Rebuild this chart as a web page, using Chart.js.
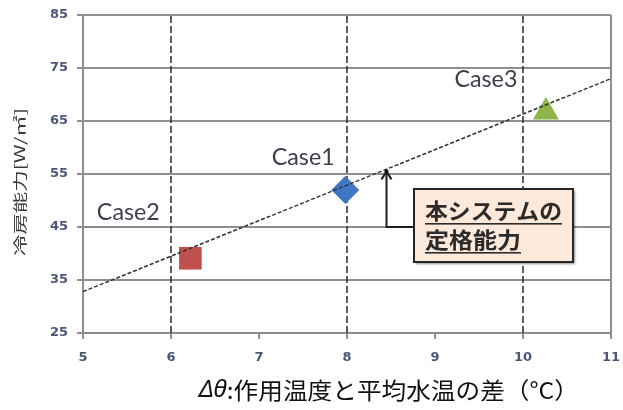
<!DOCTYPE html>
<html>
<head>
<meta charset="utf-8">
<script src="https://cdn.jsdelivr.net/npm/chart.js@4"></script>
<style>
  html, body { margin: 0; padding: 0; background: #fff; }
  #wrap { width: 623px; height: 410px; position: relative; }
</style>
</head>
<body>
<div id="wrap"><canvas id="c" width="623" height="410"></canvas></div>
<script>
// Axis ranges and ticks
const xTicks = [5, 6, 7, 8, 9, 10, 11];
const yTicks = [25, 35, 45, 55, 65, 75, 85];
// Dashed reference verticals
const guideX = [6, 8, 10];

// Measured cases
const caseNames = ['Case1', 'Case2', 'Case3'];
const caseX = [7.98, 6.22, 10.26];
const caseY = [52, 39.1, 66.7];

// Capacity trend line (end points)
const trendX = [5, 11];
const trendY = [32.8, 73.0];

// Rated capacity arrow and note
const ratedX = 8.44;
const ratedFromY = 45;
const ratedToY = 55.5;
const noteLines = ['本システムの', '定格能力'];

const yTitle = '冷房能力[W/㎡]';
const xTitleItalic = 'Δθ';
const xTitleRest = ':作用温度と平均水温の差（°C）';

// Styles
const caseStyles = [
  { style: 'rectRot', color: '#3f77c4', radius: 14 },
  { style: 'rect', color: '#c0504d', radius: 16 },
  { style: 'triangle', color: '#8db54a', radius: 15 }
];
const labelOffsets = [[-42, -32], [-62, -46], [-60, -32]];
const gridGray = '#8f8f8f';
const tickBlue = '#4b5678';

function fitText(ctx, text, x, y, width) {
  const w = ctx.measureText(text).width;
  ctx.save();
  ctx.translate(x, y);
  ctx.scale(width / w, 1);
  ctx.fillText(text, 0, 0);
  ctx.restore();
}

const decor = {
  id: 'decor',
  afterDatasetsDraw(chart) {
    const { ctx, scales: { x, y } } = chart;
    // Case labels
    ctx.save();
    ctx.font = '23px Lato';
    ctx.fillStyle = '#3a3f4e';
    ctx.textAlign = 'center';
    ctx.textBaseline = 'middle';
    caseNames.forEach((n, i) => {
      const px = x.getPixelForValue(caseX[i]) + labelOffsets[i][0];
      const py = y.getPixelForValue(caseY[i]) + labelOffsets[i][1];
      fitText(ctx, n, px, py, 63);
    });
    ctx.restore();
  },
  afterDraw(chart) {
    const { ctx, scales: { x, y } } = chart;
    const ax = Math.round(x.getPixelForValue(ratedX)) + 0.5;
    const ay0 = y.getPixelForValue(ratedFromY);
    const ay1 = y.getPixelForValue(ratedToY);
    const boxL = 414, boxT = 189, boxW = 159, boxH = 73;

    // Arrow from the note up to the trend line
    ctx.save();
    ctx.strokeStyle = '#1e1e1e';
    ctx.lineWidth = 2;
    ctx.beginPath();
    ctx.moveTo(boxL, ay0);
    ctx.lineTo(ax, ay0);
    ctx.lineTo(ax, ay1);
    ctx.stroke();
    ctx.beginPath();
    ctx.moveTo(ax - 5, ay1 + 8);
    ctx.lineTo(ax, ay1);
    ctx.lineTo(ax + 5, ay1 + 8);
    ctx.stroke();
    ctx.fillStyle = '#111';
    ctx.beginPath();
    ctx.arc(ax, ay1, 2, 0, Math.PI * 2);
    ctx.fill();

    // Note box
    ctx.shadowColor = 'rgba(0,0,0,0.45)';
    ctx.shadowOffsetX = 2;
    ctx.shadowOffsetY = 2;
    ctx.shadowBlur = 2;
    ctx.fillStyle = '#fde9d9';
    ctx.fillRect(boxL, boxT, boxW, boxH);
    ctx.shadowColor = 'transparent';
    ctx.strokeStyle = '#262626';
    ctx.lineWidth = 2;
    ctx.strokeRect(boxL, boxT, boxW, boxH);

    ctx.fillStyle = '#2b2b2b';
    ctx.font = 'bold 22px "Noto Sans CJK JP"';
    ctx.textBaseline = 'middle';
    ctx.textAlign = 'left';
    const widths = [137, 96];
    const rows = [boxT + 22, boxT + 51];
    noteLines.forEach((t, i) => {
      fitText(ctx, t, boxL + 11, rows[i], widths[i]);
      ctx.fillRect(boxL + 11, rows[i] + 12, widths[i], 1.6);
    });
    ctx.restore();

    // Axis titles
    ctx.save();
    ctx.fillStyle = '#3a3a3a';
    ctx.font = '14px "Noto Sans CJK JP"';
    ctx.textAlign = 'center';
    ctx.textBaseline = 'middle';
    ctx.translate(20, 182);
    ctx.rotate(-Math.PI / 2);
    fitText(ctx, yTitle, 0, 0, 148);
    ctx.restore();

    ctx.save();
    ctx.fillStyle = '#111';
    ctx.textBaseline = 'middle';
    ctx.textAlign = 'left';
    const f1 = 'italic 23px "Noto Sans"';
    const f2 = '23px "Noto Sans CJK JP"';
    ctx.font = f1; const w1 = ctx.measureText(xTitleItalic).width;
    ctx.font = f2; const w2 = ctx.measureText(xTitleRest).width;
    const s = 380 / (w1 + w2);
    ctx.translate(199, 390);
    ctx.scale(s, 1);
    ctx.font = f1; ctx.fillText(xTitleItalic, 0, 0);
    ctx.font = f2; ctx.fillText(xTitleRest, w1, 0);
    ctx.restore();
  }
};

const datasets = [];
// trend line on top
datasets.push({
  type: 'line',
  data: trendX.map((v, i) => ({ x: v, y: trendY[i] })),
  borderColor: '#333',
  borderWidth: 1.5,
  borderDash: [4, 2],
  pointRadius: 0,
  fill: false,
  order: 0
});
caseNames.forEach((n, i) => {
  datasets.push({
    label: n,
    data: [{ x: caseX[i], y: caseY[i] }],
    pointStyle: caseStyles[i].style,
    pointRadius: caseStyles[i].radius,
    backgroundColor: caseStyles[i].color,
    borderColor: caseStyles[i].color,
    borderWidth: 0,
    order: 1
  });
});
guideX.forEach(g => {
  datasets.push({
    type: 'line',
    data: [{ x: g, y: yTicks[0] }, { x: g, y: yTicks[yTicks.length - 1] }],
    borderColor: '#2a2a2a',
    borderWidth: 1.5,
    borderDash: [7, 3],
    pointRadius: 0,
    fill: false,
    order: 2
  });
});

new Chart(document.getElementById('c'), {
  type: 'scatter',
  data: { datasets },
  options: {
    responsive: false,
    animation: false,
    events: [],
    layout: { autoPadding: false, padding: { top: 15, right: 12, left: 0, bottom: 0 } },
    plugins: { legend: { display: false }, tooltip: { enabled: false } },
    scales: {
      x: {
        type: 'linear',
        min: xTicks[0],
        max: xTicks[xTicks.length - 1],
        afterBuildTicks: s => { s.ticks = xTicks.map(v => ({ value: v })); },
        afterFit: s => { s.height = 77; s.paddingLeft = 0; s.paddingRight = 0; },
        grid: {
          color: c => (c.tick && c.tick.value === xTicks[xTicks.length - 1]) ? gridGray : 'rgba(0,0,0,0)',
          lineWidth: 2,
          tickColor: gridGray,
          tickLength: 6,
          tickWidth: 2
        },
        border: { color: gridGray, width: 2 },
        ticks: {
          color: tickBlue,
          font: { family: 'DejaVu Sans', size: 13, weight: 'bold' },
          padding: 11,
          maxRotation: 0
        }
      },
      y: {
        type: 'linear',
        min: yTicks[0],
        max: yTicks[yTicks.length - 1],
        afterBuildTicks: s => { s.ticks = yTicks.map(v => ({ value: v })); },
        afterFit: s => { s.width = 83; s.paddingTop = 0; s.paddingBottom = 0; },
        grid: {
          color: gridGray,
          lineWidth: 2,
          tickColor: gridGray,
          tickLength: 6,
          tickWidth: 2
        },
        border: { color: gridGray, width: 2 },
        ticks: {
          color: tickBlue,
          font: { family: 'DejaVu Sans', size: 13, weight: 'bold' },
          padding: 9
        }
      }
    }
  },
  plugins: [decor]
});
</script>
</body>
</html>
